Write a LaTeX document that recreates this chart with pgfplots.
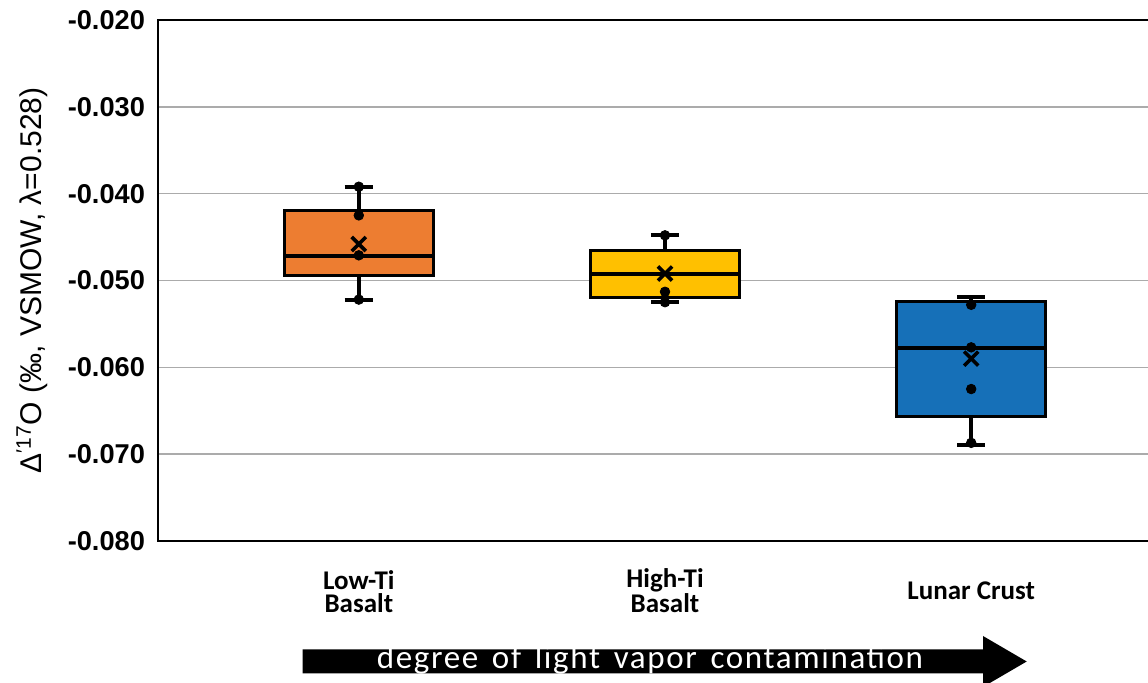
\documentclass[border=0pt]{standalone}
\usepackage{fontspec}
\setmainfont{Liberation Sans}
\newfontfamily\calfont{Carlito}
\newfontfamily\arrowfont[LetterSpace=5,WordSpace=1.5]{Carlito}
\usepackage{pgfplots}
\usepackage{pgfplotstable}
\pgfplotsset{compat=1.18}

\definecolor{cOrange}{HTML}{ED7D31}
\definecolor{cYellow}{HTML}{FFC000}
\definecolor{cBlue}{HTML}{1670B8}

\pgfplotstableread{
x y
1 -0.0392
1 -0.0425
1 -0.0471
1 -0.0522
2 -0.0448
2 -0.0513
2 -0.0525
3 -0.0528
3 -0.0577
3 -0.0625
3 -0.0687
}\pts

\pgfplotstableread{
x y
1 -0.0458
2 -0.0492
3 -0.0590
}\means

\begin{document}
\begin{tikzpicture}
\path[use as bounding box] (-79pt,-71pt) rectangle (495pt,270.5pt);
\begin{axis}[
  at={(0pt,0pt)}, anchor=south west,
  scale only axis, width=505pt, height=260.5pt,
  xmin=0.3442, xmax=3.6427, ymin=-0.08, ymax=-0.02,
  scaled y ticks=false,
  ytick={-0.08,-0.07,-0.06,-0.05,-0.04,-0.03,-0.02},
  yticklabels={-0.080,-0.070,-0.060,-0.050,-0.040,-0.030,-0.020},
  xtick={1,2,3},
  xticklabels={Low-Ti\\Basalt, High-Ti\\Basalt, \raisebox{6.5pt}{Lunar Crust}},
  major tick length=0pt,
  ymajorgrids, grid style={black!33, line width=0.8pt},
  axis line style={line width=1.2pt},
  yticklabel style={font=\fontsize{13.6}{15}\selectfont\bfseries, xshift=-3pt},
  xticklabel style={font=\calfont\bfseries\fontsize{13.5}{11.5}\selectfont, align=center, anchor=base, yshift=-36pt},
  every axis y label/.style={at={(axis description cs:-0.12475,0.5)}, rotate=90, anchor=center, font=\fontsize{15}{17}\selectfont},
  ylabel={Δ\textsuperscript{′17}O (‰, VSMOW, λ=0.528)},
  clip=false,
  whisk/.style={black, line width=2pt, mark=none},
  boxst/.style={draw=black, line width=1.5pt, line join=miter, mark=none},
]
% Low-Ti Basalt: whiskers -0.0522 / -0.0392, quartiles -0.0494 / -0.0419, median -0.0472
\addplot[whisk] coordinates {(1,-0.0419) (1,-0.0392)};
\addplot[whisk] coordinates {(0.954,-0.0392) (1.046,-0.0392)};
\addplot[whisk] coordinates {(1,-0.0494) (1,-0.0522)};
\addplot[whisk] coordinates {(0.954,-0.0522) (1.046,-0.0522)};
\addplot[boxst, fill=cOrange] coordinates {(0.7565,-0.0494) (1.2435,-0.0494) (1.2435,-0.0419) (0.7565,-0.0419)} -- cycle;
\addplot[whisk] coordinates {(0.7565,-0.0472) (1.2435,-0.0472)};
% High-Ti Basalt: whiskers -0.0525 / -0.0448, quartiles -0.0520 / -0.0465, median -0.0492
\addplot[whisk] coordinates {(2,-0.0465) (2,-0.0448)};
\addplot[whisk] coordinates {(1.954,-0.0448) (2.046,-0.0448)};
\addplot[whisk] coordinates {(2,-0.0520) (2,-0.0525)};
\addplot[whisk] coordinates {(1.954,-0.0525) (2.046,-0.0525)};
\addplot[boxst, fill=cYellow] coordinates {(1.7565,-0.0520) (2.2435,-0.0520) (2.2435,-0.0465) (1.7565,-0.0465)} -- cycle;
\addplot[whisk] coordinates {(1.7565,-0.0492) (2.2435,-0.0492)};
% Lunar Crust: whiskers -0.0690 / -0.0519, quartiles -0.0657 / -0.0524, median -0.0578
\addplot[whisk] coordinates {(3,-0.0524) (3,-0.0519)};
\addplot[whisk] coordinates {(2.954,-0.0519) (3.046,-0.0519)};
\addplot[whisk] coordinates {(3,-0.0657) (3,-0.0690)};
\addplot[whisk] coordinates {(2.954,-0.0690) (3.046,-0.0690)};
\addplot[boxst, fill=cBlue] coordinates {(2.7565,-0.0657) (3.2435,-0.0657) (3.2435,-0.0524) (2.7565,-0.0524)} -- cycle;
\addplot[whisk] coordinates {(2.7565,-0.0578) (3.2435,-0.0578)};
% individual points and means
\addplot[only marks, mark=*, mark size=2.4pt, black] table[x=x,y=y] {\pts};
\addplot[only marks, mark=x, mark size=5pt, black, line width=1.8pt] table[x=x,y=y] {\means};
\end{axis}
\fill[black] (72.35pt,-54.15pt) -- (412.5pt,-54.15pt) -- (412.5pt,-47.5pt) -- (434.35pt,-60.25pt) -- (412.5pt,-73pt) -- (412.5pt,-66.15pt) -- (72.35pt,-66.15pt) -- cycle;
\node[anchor=base, text=white, font=\arrowfont\fontsize{16.5}{18}\selectfont, inner sep=0pt] at (246pt,-64pt) {degree of light vapor contamination};
\end{tikzpicture}
\end{document}
